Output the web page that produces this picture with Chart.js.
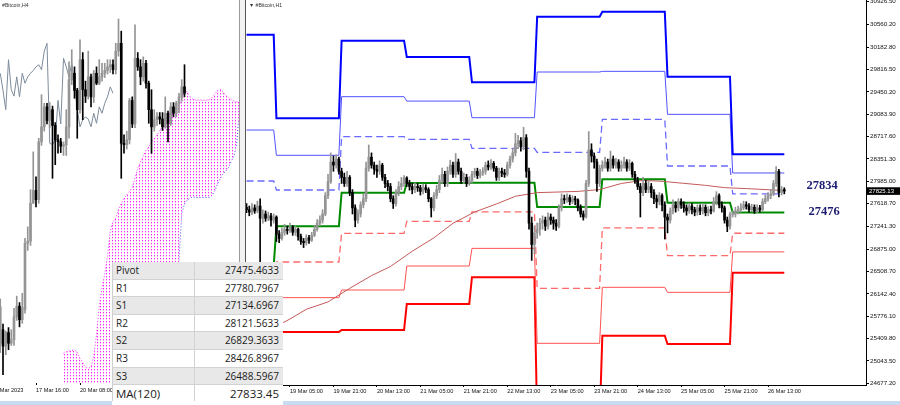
<!DOCTYPE html>
<html><head><meta charset="utf-8">
<script src="https://cdn.jsdelivr.net/npm/chart.js@4.4.0/dist/chart.umd.min.js"></script>
<style>
html,body{margin:0;padding:0;background:#fff;width:900px;height:405px;overflow:hidden;position:relative;font-family:"Liberation Sans",Arial,sans-serif}
canvas{position:absolute;top:0}
#c1{left:-20px}
#c2{left:246px}
.sep1{position:absolute;left:239px;top:0;width:1px;height:405px;background:#9a9a9a}
.sep2{position:absolute;left:240px;top:0;width:5px;height:405px;background:#f2f2f2}
.sep3{position:absolute;left:245px;top:0;width:1px;height:405px;background:#555}
.title{position:absolute;top:2px;font-size:5.2px;color:#333;white-space:nowrap}
.strip{position:absolute;left:0;top:401px;width:900px;height:4px;background:#c9dcef}
#tbl{position:absolute;left:112px;top:262px;width:170px;background:#fff;border-left:1px solid #cfcfcf;font-family:"Open Sans","Noto Sans",sans-serif;color:#1a1a1a}
.row{position:relative;height:16.6px;border-bottom:1px solid #d2d2d2;font-size:10px;line-height:16.6px}
.row.g{background:#e8e8e8}
.row .n{position:absolute;left:3px;top:0}
.row .v{position:absolute;right:4px;top:0}
.row .d{position:absolute;left:81px;top:0;width:1px;height:100%;background:#d2d2d2}
.row.ma{font-size:11.5px;height:17px;line-height:17px;border-bottom:none}
.tbot{position:absolute;left:112px;top:401px;width:171px;height:4px;background:#fff}
</style></head><body>
<canvas id="c1" width="260" height="405"></canvas>
<canvas id="c2" width="654" height="405"></canvas>
<div class="sep1"></div><div class="sep2"></div><div class="sep3"></div>
<div class="title" style="left:2px">#Bitcoin,H4</div>
<div class="title" style="left:249px">&#9660; #Bitcoin,H1</div>
<div class="strip"></div>
<div id="tbl"></div>
<div class="tbot"></div>
<script>
// ---------- Right panel (H1) data: hour index t, 0 = 19 Mar 00:00 ----------
const H1_START = -11;
const h1FirstOpen = 27560;
const h1Close = [
27520,27480,27550,27500,27580,27380,27450,27380,27420,27350,27400,
27120,27050,27150,27200,27180,27230,27150,27200,27080,27000,
26980,27060,27020,27100,27200,27300,27350,27450,27750,27980,
28300,28250,28350,28150,28050,27950,28050,27800,27550,27350,
27450,27600,27700,28200,28380,28250,28180,28150,28250,28050,
27950,27900,27700,27620,27800,27900,27950,28040,27950,27900,
27850,27900,27880,27820,27880,27850,27700,27550,27750,27850,
28000,28100,27950,28150,28250,28100,28300,28150,28000,28050,
27950,28000,28100,28150,28080,28120,28150,28250,28220,28280,
28200,28050,28150,28120,28100,28250,28350,28450,28600,28650,
28550,28700,28150,27300,26950,27140,27200,27300,27350,27250,
27400,27350,27300,27250,27550,27700,27680,27720,27650,27700,
27680,27550,27450,27400,27950,28500,28400,28300,27950,28200,
28250,28300,28200,28350,28250,28300,28200,28250,28300,28200,
28280,28100,28000,27900,27800,27950,27850,27900,27800,27700,
27650,27750,27600,27400,27350,27500,27600,27550,27650,27600,
27550,27500,27580,27520,27480,27550,27500,27560,27470,27520,
27500,27650,27750,27600,27550,27350,27250,27440,27450,27500,
27520,27550,27600,27580,27520,27560,27500,27550,27520,27650,
27700,27750,27780,27950,28150,27800,27850,27825.13];
const h1High = [
27620,27580,27620,27600,27660,27700,27520,27500,27480,27460,27450,
27420,27180,27220,27280,27250,27300,27260,27250,27220,27120,
27050,27110,27100,27150,27260,27360,27420,27520,27800,28100,
28450,28400,28420,28380,28200,28120,28150,28080,27850,27600,
27520,27650,27780,28300,28580,28450,28300,28250,28320,28280,
28100,28000,27950,27750,27850,27980,28050,28080,28060,28000,
27950,27960,27950,27920,27940,27930,27880,27720,27800,27920,
28080,28200,28150,28220,28330,28300,28440,28350,28200,28120,
28100,28060,28150,28200,28200,28180,28210,28300,28320,28340,
28310,28230,28200,28200,28180,28300,28400,28520,28770,28740,
28700,28870,28750,28200,27400,27250,27300,27380,27420,27400,
27470,27450,27400,27360,27600,27780,27760,27780,27760,27750,
27740,27700,27600,27500,28000,28800,28600,28450,28350,28250,
28320,28380,28350,28480,28400,28360,28340,28320,28380,28340,
28340,28300,28150,28050,27950,28050,28000,28000,27950,27850,
27760,27800,27780,27650,27450,27550,27680,27650,27700,27700,
27650,27600,27630,27620,27560,27600,27600,27620,27600,27570,
27580,27720,27816,27780,27650,27580,27400,27480,27500,27560,
27580,27620,27660,27650,27620,27610,27600,27600,27590,27700,
27760,27800,27850,28000,28225,28180,27900,27880];
const h1Low = [
27470,27420,27440,27460,27470,26650,27300,27330,27340,27250,27300,
27000,26980,27020,27100,27120,27150,27100,27100,27020,26950,
26900,26940,26970,27000,27080,27170,27260,27300,27420,27700,
27950,28150,28200,28100,27950,27900,27900,27750,27450,27240,
27300,27400,27550,27650,28150,28200,28100,28050,28100,28000,
27880,27830,27650,27540,27580,27750,27850,27900,27900,27840,
27780,27800,27820,27760,27780,27800,27650,27400,27500,27700,
27800,27950,27900,27900,28100,28050,28050,28100,27950,27950,
27900,27920,27960,28050,28030,28040,28080,28100,28170,28180,
28150,28000,28000,28060,28050,28070,28200,28300,28400,28520,
28480,28500,28050,27200,26690,26800,27050,27100,27200,27180,
27200,27280,27200,27180,27220,27500,27620,27640,27600,27620,
27600,27500,27400,27350,27380,27900,28300,28200,27820,27900,
28150,28200,28150,28150,28200,28200,28150,28150,28200,28150,
28160,28050,27950,27850,27400,27750,27800,27800,27720,27620,
27550,27600,27500,27040,27140,27300,27450,27480,27500,27540,
27480,27430,27460,27450,27420,27430,27440,27450,27420,27420,
27450,27480,27600,27550,27480,27300,27160,27200,27400,27400,
27450,27480,27520,27530,27480,27490,27460,27470,27480,27500,
27620,27660,27700,27750,27900,27730,27760,27780];
const lastPrice = 27825.13;

// Daily pivot levels: 18 Mar ... 26 Mar
const dayStarts = [-24, 0, 24, 48, 72, 96, 120, 144, 168];
const pivotP  = [26600, 27248, 27799, 27957, 27963, 27564, 28017, 27635, 27475.4633];
const pivotR1 = [27990, 27843, 28716, 28672, 28525, 28459, 28999, 28236, 27780.7967];
const pivotR2 = [28825, 28411, 29371, 29299, 29027, 29775, 29786, 29082, 28121.5633];
const pivotR3 = [30386, 29016, 30288, 30021, 29606, 30681, 30763, 29698, 28426.8967];
const pivotS1 = [25765, 26664, 27134, 27330, 27483, 26233, 27221, 26768, 27134.6967];
const pivotS2 = [24375, 26080, 26205, 26598, 26887, 25332, 26249, 26167, 26829.3633];
const pivotS3 = [23540, 25518, 25551, 25977, 26414, 24037, 25457, 25321, 26488.5967];

// MA(120) samples
const maT = [-11,-3,2,5,11,19,27,35,42,50,58,65,73,81,88,96,104,111,119,127,135,142,150,158,165,173,187];
const maV = [25330,25530,25660,25730,25889,26010,26233,26440,26590,26840,27060,27297,27483,27614,27740,27800,27810,27820,27850,27950,28000,27985,27952,27919,27881,27866,27833.45];

const levelLabels = [27834, 27476];

const xTickVals = [5,21,37,53,69,85,101,117,133,149,165,181];
const xTickText = ["19 Mar 05:00","19 Mar 21:00","20 Mar 13:00","21 Mar 05:00","21 Mar 21:00","22 Mar 13:00","23 Mar 05:00","23 Mar 21:00","24 Mar 13:00","25 Mar 05:00","25 Mar 21:00","26 Mar 13:00"];
const yTickVals = [30926.5,30560.2,30182.8,29816.5,29450.2,29083.9,28717.6,28351.3,27985.0,27618.7,27241.3,26875.0,26508.7,26142.4,25776.1,25409.8,25043.5,24677.2];

// ---------- Left panel (H4) data: bar index k, 0 = 17 Mar 16:00 ----------
const H4_START = -13;
const h4Open  = [24330,24520,24290,24480,24330,24380,24700,24850,24660,24800,25730,25760,26290,26470,26340,27150,27360,27640,27450,27600,27380,27180,27150,27090,27110,27360,28020,28110,27870,27600,28300,27880,27790,28060,27780,28110,27970,28060,28110,28150,28200,28230,28160,28420,28530,27130,27110,27180,27730,27400,28320,28200,28060,28250,27970,27600,27360,27460,27500,27470,27360,27550,27410,27640,27550,27690,27780,27920];
const h4High  = [24950,24600,24500,24550,24520,24820,24990,24900,25030,25800,25960,26480,27010,26660,27200,27810,27690,27690,27700,27650,27420,27250,27200,27150,27600,28270,28440,28200,27900,28580,28400,28000,28420,28100,28150,28200,28300,28250,28250,28300,28300,28300,28530,28870,28700,27250,27300,27760,27780,28790,28400,28300,28340,28290,28000,27880,27600,27560,27560,27560,27780,27580,27700,27700,27720,27830,28020,28230];
const h4Low   = [24200,23890,24170,24240,24300,24300,24650,24560,24610,24750,25630,25700,26290,26240,26290,27100,27300,27400,27350,26640,26830,26990,27000,26960,26960,27200,27950,27760,27200,27550,27460,27700,27750,27640,27700,27950,27950,28000,28050,28100,28120,28100,28100,28350,26640,26990,27050,27120,27350,27350,28150,27950,28000,27900,27410,26990,27300,27380,27400,27310,27340,27150,27380,27500,27500,27560,27720,27780];
const h4Close = [24840,24290,24480,24330,24380,24700,24850,24660,24830,25730,25760,26290,26470,26340,27150,27360,27640,27450,27600,27380,27180,27150,27090,27110,27360,28020,28110,27870,27600,28300,27880,27790,28060,27780,28110,27970,28060,28110,28150,28200,28230,28160,28420,28530,27130,27110,27180,27730,27400,28320,28200,28060,28250,27970,27600,27360,27460,27500,27470,27360,27550,27410,27640,27550,27690,27780,27920,27830];
const CHIKOU_SHIFT = 26;

// Ichimoku cloud (Senkou A upper, Senkou B lower), k = 10 .. 74
const CLOUD_START = 10;
const senkouA = [24190,24210,24220,24230,24236,24200,24120,24060,23990,23980,24000,24150,24450,24850,25100,25300,25550,25900,26030,26080,26200,26290,26360,26410,26460,26510,26640,26780,26870,26950,27030,27080,27150,27200,27250,27310,27360,27440,27520,27590,27620,27640,27680,27710,27860,27850,27780,27750,27736,27736,27736,27736,27736,27740,27770,27820,27870,27886,27850,27800,27770,27740,27720,27712,27710];
const senkouB = [23500,23500,23500,23500,23500,23500,23500,23500,23500,23500,23500,23500,23500,23500,23500,23500,23500,23500,23500,23500,23500,23500,23500,23500,23500,23500,23500,23500,23500,23500,23500,23500,23500,23500,23500,23500,23500,23500,23500,23500,23500,23500,25500,26150,26280,26336,26360,26382,26370,26370,26370,26370,26370,26370,26400,26460,26560,26640,26700,26740,26790,26880,26950,27134,27600];
const h4TickVals = [-16, 0, 16];
const h4TickText = ["15 Mar 2023", "17 Mar 16:00", "20 Mar 08:00"];

// Table
const tableNames = ["Pivot","R1","S1","R2","S2","R3","S3","MA(120)"];
const tableValues = [pivotP[8].toFixed(4), pivotR1[8].toFixed(4), pivotS1[8].toFixed(4), pivotR2[8].toFixed(4), pivotS2[8].toFixed(4), pivotR3[8].toFixed(4), pivotS3[8].toFixed(4), maV[maV.length-1].toFixed(2)];

// ---------- helpers ----------
const BULL = '#959595', BEAR = '#000000';
function candleSets(start, open, high, low, close, bodyW) {
  const wick = [], body = [], col = [];
  for (let i = 0; i < close.length; i++) {
    const x = start + i;
    wick.push({x, y: [low[i], high[i]]});
    body.push({x, y: [open[i], close[i]]});
    col.push(close[i] >= open[i] ? BULL : BEAR);
  }
  const base = {type: 'bar', grouped: false, borderWidth: 0, borderSkipped: false, minBarLength: 1, order: 0};
  return [
    Object.assign({}, base, {data: wick, backgroundColor: col, barThickness: 1}),
    Object.assign({}, base, {data: body, backgroundColor: col, barThickness: bodyW})
  ];
}
const lastT = H1_START + h1Close.length - 1;
function stepLine(vals) {
  const pts = [];
  vals.forEach((v, d) => {
    const s = Math.max(dayStarts[d], H1_START), e = Math.min(dayStarts[d] + 23, lastT);
    pts.push({x: s, y: v}, {x: e, y: v});
  });
  return pts;
}
function lineDS(data, color, width, dash, order) {
  return {type: 'line', data, borderColor: color, borderWidth: width, borderDash: dash || [], pointRadius: 0, fill: false, tension: 0, order: order || 1};
}

Chart.defaults.font.family = '"Liberation Sans", Arial, sans-serif';

// ---------- Right chart ----------
const h1Open = h1Close.map((c, i) => i ? h1Close[i - 1] : h1FirstOpen);
const rightPlugin = {
  id: 'rightLabels',
  afterDraw(chart) {
    const {ctx, scales: {y}} = chart;
    const py = y.getPixelForValue(lastPrice);
    ctx.save();
    ctx.fillStyle = '#000';
    ctx.fillRect(y.left, py - 3.8, 34, 7.6);
    ctx.fillStyle = '#fff';
    ctx.font = '6px "Liberation Sans", Arial';
    ctx.textBaseline = 'middle';
    ctx.textAlign = 'left';
    ctx.fillText(lastPrice.toFixed(2), y.left + 3, py + 0.3);
    ctx.fillStyle = '#1b1b72';
    ctx.font = 'bold 12.5px "Liberation Serif", "Times New Roman", serif';
    ctx.textAlign = 'center';
    ctx.fillText(String(levelLabels[0]), 576, y.getPixelForValue(levelLabels[0]) - 5);
    ctx.fillText(String(levelLabels[1]), 578, y.getPixelForValue(levelLabels[1]) - 0.7);
    ctx.restore();
  }
};
new Chart(document.getElementById('c2'), {
  type: 'bar',
  data: {datasets: [
    ...candleSets(H1_START, h1Open, h1High, h1Low, h1Close, 2),
    lineDS(maT.map((t, i) => ({x: t, y: maV[i]})), '#c45a5a', 1),
    lineDS(stepLine(pivotR3), '#0000ff', 2),
    lineDS(stepLine(pivotR2), '#5252ff', 1),
    lineDS(stepLine(pivotR1), '#6a6aff', 1.3, [7, 4]),
    lineDS(stepLine(pivotP), '#008a00', 2),
    lineDS(stepLine(pivotS1), '#ff6a6a', 1.3, [7, 4]),
    lineDS(stepLine(pivotS2), '#ff5252', 1),
    lineDS(stepLine(pivotS3), '#ff0000', 2)
  ]},
  options: {
    responsive: false, animation: false, devicePixelRatio: 1, events: [],
    layout: {padding: 0, autoPadding: false},
    plugins: {legend: {display: false}, tooltip: {enabled: false}},
    scales: {
      x: {
        type: 'linear', min: -11.2, max: 217.08, offset: false,
        border: {display: true, color: '#000', width: 1},
        grid: {display: true, drawOnChartArea: false, drawTicks: true, tickLength: 2, color: '#000', offset: false},
        ticks: {autoSkip: false, maxRotation: 0, minRotation: 0, align: 'start', padding: 1, color: '#111', font: {size: 5.6},
                callback: v => { const i = xTickVals.indexOf(v); return i >= 0 ? xTickText[i] : ''; }},
        afterBuildTicks: s => { s.ticks = xTickVals.map(v => ({value: v})); },
        afterFit: s => { s.height = 20; s.paddingLeft = s.paddingRight = s.paddingTop = s.paddingBottom = 0; }
      },
      y: {
        type: 'linear', position: 'right', min: 24649.4, max: 30954.3,
        border: {display: true, color: '#000', width: 1},
        grid: {display: true, drawOnChartArea: false, drawTicks: true, tickLength: 3, color: '#000'},
        ticks: {autoSkip: false, padding: 1, color: '#111', font: {size: 6.2}, callback: v => Number(v).toFixed(2)},
        afterBuildTicks: s => { s.ticks = yTickVals.map(v => ({value: v})); },
        afterFit: s => { s.width = 34; s.paddingLeft = s.paddingRight = s.paddingTop = s.paddingBottom = 0; }
      }
    }
  },
  plugins: [rightPlugin]
});

// ---------- Left chart ----------
const c1 = document.getElementById('c1');
const tile = document.createElement('canvas'); tile.width = 3; tile.height = 3;
const tctx = tile.getContext('2d');
tctx.fillStyle = '#ff1aff'; tctx.fillRect(0, 0, 1, 1);
tctx.fillStyle = '#ffb4ff'; tctx.fillRect(0, 1, 1, 1);
const cloudPattern = c1.getContext('2d').createPattern(tile, 'repeat');
const chikou = [];
for (let i = CHIKOU_SHIFT; i < h4Close.length; i++) chikou.push({x: H4_START + i - CHIKOU_SHIFT, y: h4Close[i]});
new Chart(c1, {
  type: 'bar',
  data: {datasets: [
    ...candleSets(H4_START, h4Open, h4High, h4Low, h4Close, 2),
    lineDS(chikou, '#7d8b9b', 1, null, 1),
    Object.assign(lineDS(senkouA.map((v, i) => ({x: CLOUD_START + i, y: v})), '#ff2cff', 1, [1, 2], 2), {fill: '+1', backgroundColor: cloudPattern}),
    lineDS(senkouB.map((v, i) => ({x: CLOUD_START + i, y: v})), '#4646ff', 1, [1, 2], 2)
  ]},
  options: {
    responsive: false, animation: false, devicePixelRatio: 1, events: [],
    layout: {padding: 0, autoPadding: false},
    plugins: {legend: {display: false}, tooltip: {enabled: false}},
    scales: {
      x: {
        type: 'linear', min: -20.364, max: 74.18, offset: false,
        border: {display: false},
        grid: {display: true, drawOnChartArea: false, drawTicks: true, tickLength: 2, color: '#000', offset: false},
        ticks: {autoSkip: false, maxRotation: 0, minRotation: 0, align: 'start', padding: 2, color: '#111', font: {size: 5.6},
                callback: v => { const i = h4TickVals.indexOf(v); return i >= 0 ? h4TickText[i] : ''; }},
        afterBuildTicks: s => { s.ticks = h4TickVals.map(v => ({value: v})); },
        afterFit: s => { s.height = 22; s.paddingLeft = s.paddingRight = s.paddingTop = s.paddingBottom = 0; }
      },
      y: {type: 'linear', min: 23774, max: 29136, display: false}
    }
  }
});

// ---------- Table ----------
const tbl = document.getElementById('tbl');
tableNames.forEach((n, i) => {
  const r = document.createElement('div');
  r.className = 'row' + (i % 2 === 0 && i < 7 ? ' g' : '') + (i === 7 ? ' ma' : '');
  r.innerHTML = '<span class="n"></span><span class="d"></span><span class="v"></span>';
  r.querySelector('.n').textContent = n;
  r.querySelector('.v').textContent = tableValues[i];
  tbl.appendChild(r);
});
</script>
</body></html>
